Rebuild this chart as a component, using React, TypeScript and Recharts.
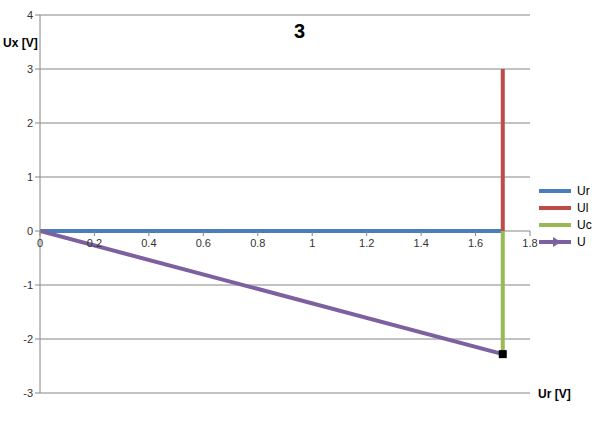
import React from "react";
import { LineChart, Line, XAxis, YAxis, CartesianGrid } from "recharts";

const xTicks = [0, 0.2, 0.4, 0.6, 0.8, 1, 1.2, 1.4, 1.6, 1.8];
const yTicks = [-3, -2, -1, 0, 1, 2, 3, 4];

const urData = [
  { x: 0, y: 0 },
  { x: 1.7, y: 0 },
];
const ulData = [
  { x: 1.7, y: 0 },
  { x: 1.7, y: 3 },
];
const ucData = [
  { x: 1.7, y: 0 },
  { x: 1.7, y: -2.28 },
];
const uData = [
  { x: 0, y: 0 },
  { x: 1.7, y: -2.28 },
];

const SERIES = [
  { name: "Ur", data: urData, color: "#4a7ebb" },
  { name: "Ul", data: ulData, color: "#be4b48" },
  { name: "Uc", data: ucData, color: "#98b954" },
  { name: "U", data: uData, color: "#7d60a0" },
];

const W = 599;
const H = 430;
const M = { top: 15, right: 69, left: 10, bottom: 17 };
const X_AXIS_H = 20;
const PLOT_H = H - M.top - M.bottom - X_AXIS_H;
const Y_MIN = -3;
const Y_MAX = 4;
const ZERO_Y = M.top + (PLOT_H * Y_MAX) / (Y_MAX - Y_MIN);
const FONT = "'Liberation Sans', Arial, sans-serif";
const GRID = "#868686";

function XTick(props: any) {
  const { payload } = props;
  const x = payload.coordinate;
  return (
    <g>
      <line x1={x} x2={x} y1={ZERO_Y} y2={ZERO_Y + 5} stroke={GRID} />
      <text x={x} y={ZERO_Y + 16} textAnchor="middle" fontSize={11} fill="#333" fontFamily={FONT}>
        {payload.value}
      </text>
    </g>
  );
}

function EndSquare(props: any) {
  const { cx, cy, index } = props;
  if (index !== uData.length - 1) return <g key={index} />;
  return <rect key={index} x={cx - 4} y={cy - 4} width={8} height={8} fill="#000" />;
}

function LegendIcon({ color, arrow }: { color: string; arrow?: boolean }) {
  return (
    <svg width={32} height={10} style={{ marginRight: 6 }}>
      <line x1={0} x2={32} y1={5} y2={5} stroke={color} strokeWidth={4} />
      {arrow && <polygon points="14,0 22,5 14,10" fill={color} />}
    </svg>
  );
}

export default function App() {
  return (
    <div style={{ position: "relative", width: W, height: H, background: "#fff", fontFamily: FONT }}>
      <style>{`body{margin:0}`}</style>
      <LineChart width={W} height={H} margin={M}>
        <CartesianGrid vertical={false} stroke={GRID} />
        <XAxis
          type="number"
          dataKey="x"
          domain={[0, 1.8]}
          ticks={xTicks}
          height={X_AXIS_H}
          axisLine={false}
          tickLine={false}
          tick={<XTick />}
          allowDataOverflow
        />
        <YAxis
          type="number"
          dataKey="y"
          domain={[Y_MIN, Y_MAX]}
          ticks={yTicks}
          width={30}
          axisLine={{ stroke: GRID }}
          tickLine={{ stroke: GRID }}
          tickSize={5}
          tick={{ fontSize: 11, fill: "#333", fontFamily: FONT }}
        />
        {SERIES.map((s) => (
          <Line
            key={s.name}
            data={s.data}
            dataKey="y"
            type="linear"
            stroke={s.color}
            strokeWidth={4}
            dot={s.name === "U" ? <EndSquare /> : false}
            activeDot={false}
            isAnimationActive={false}
          />
        ))}
      </LineChart>
      <div style={{ position: "absolute", left: 0, top: 20, width: W, textAlign: "center", fontSize: 20, fontWeight: "bold" }}>
        3
      </div>
      <div style={{ position: "absolute", left: 3, top: 36, fontSize: 12, fontWeight: "bold" }}>Ux [V]</div>
      <div style={{ position: "absolute", left: 538, top: 387, fontSize: 12, fontWeight: "bold" }}>Ur [V]</div>
      <div style={{ position: "absolute", left: 539, top: 182, fontSize: 12 }}>
        {SERIES.map((s) => (
          <div key={s.name} style={{ display: "flex", alignItems: "center", height: 17 }}>
            <LegendIcon color={s.color} arrow={s.name === "U"} />
            <span>{s.name}</span>
          </div>
        ))}
      </div>
    </div>
  );
}
